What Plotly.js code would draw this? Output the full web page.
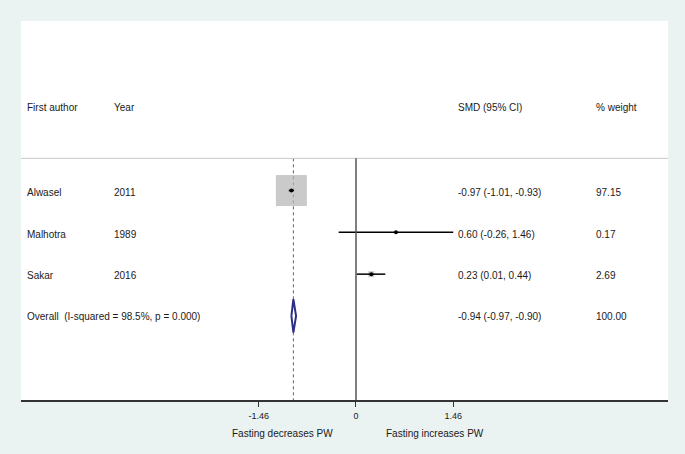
<!DOCTYPE html>
<html>
<head>
<meta charset="utf-8">
<script src="https://cdn.plot.ly/plotly-3.0.1.min.js"></script>
<style>
  html, body { margin: 0; padding: 0; background: #eaf2f2; }
  #plot { width: 685px; height: 454px; }
</style>
</head>
<body>
<div id="plot"></div>
<script>
// studies
var authors = ['Alwasel', 'Malhotra', 'Sakar'];
var years = ['2011', '1989', '2016'];
var smd = [-0.97, 0.60, 0.23];
var ciLow = [-1.01, -0.26, 0.01];
var ciHigh = [-0.93, 1.46, 0.44];
var weights = [97.15, 0.17, 2.69];

// pooled result
var overallLabel = 'Overall  (I-squared = 98.5%, p = 0.000)';
var overallSmd = -0.94;
var overallLow = -0.97;
var overallHigh = -0.90;
var overallWeight = 100.00;

var tickVals = [-1.46, 0, 1.46];
var tickText = ['-1.46', '0', '1.46'];

var fontFam = 'Liberation Sans, Arial, sans-serif';
var txtColor = '#1a1a1a';

var rows = authors.map(function (a, i) { return i; });
var overallRow = authors.length;
var maxW = Math.max.apply(null, weights);

function ciText(e, l, h) {
    return e.toFixed(2) + ' (' + l.toFixed(2) + ', ' + h.toFixed(2) + ')';
}

var boxes = {
    x: smd,
    y: rows,
    type: 'scatter',
    mode: 'markers',
    marker: {
        symbol: 'square',
        color: '#b4b4b4',
        size: weights.map(function (w) { return 30 * Math.sqrt(w / maxW) + 1; }),
        line: { width: 0 }
    },
    hoverinfo: 'skip'
};

var points = {
    x: smd,
    y: rows,
    type: 'scatter',
    mode: 'markers',
    marker: { symbol: 'circle', color: '#000', size: 4 },
    error_x: {
        type: 'data',
        symmetric: false,
        array: ciHigh.map(function (h, i) { return h - smd[i]; }),
        arrayminus: ciLow.map(function (l, i) { return smd[i] - l; }),
        width: 0,
        thickness: 1.5,
        color: '#000'
    },
    hoverinfo: 'skip'
};

var halfH = 0.4;
var diamond = {
    x: [overallLow, overallSmd, overallHigh, overallSmd, overallLow],
    y: [overallRow, overallRow - halfH, overallRow, overallRow + halfH, overallRow],
    type: 'scatter',
    mode: 'lines',
    fill: 'toself',
    fillcolor: '#ffffff',
    line: { color: '#2e2e86', width: 2 },
    hoverinfo: 'skip'
};

var sepRow = -0.77;
var headerRow = -1.98;

var annotations = [];
function addText(txt, x, y, xref, size) {
    annotations.push({
        text: txt, x: x, y: y, xref: xref || 'paper', yref: 'y',
        xanchor: 'left', yanchor: 'middle', showarrow: false, borderpad: 0,
        font: { family: fontFam, size: size || 10, color: txtColor }
    });
}

var colAuthor = 0.008, colYear = 0.1425, colSmd = 0.6745, colW = 0.8875;

addText('First author', colAuthor, headerRow);
addText('Year', colYear, headerRow);
addText('SMD (95% CI)', colSmd, headerRow);
addText('% weight', colW, headerRow);

rows.forEach(function (r, i) {
    addText(authors[i], colAuthor, r + 0.04);
    addText(years[i], colYear, r + 0.04);
    addText(ciText(smd[i], ciLow[i], ciHigh[i]), colSmd, r + 0.04);
    addText(weights[i].toFixed(2), colW, r + 0.04);
});
addText(overallLabel, colAuthor, overallRow + 0.02);
addText(ciText(overallSmd, overallLow, overallHigh), colSmd, overallRow + 0.02);
addText(overallWeight.toFixed(2), colW, overallRow + 0.02);

// axis side labels
annotations.push({
    text: 'Fasting decreases PW', x: -1.1, y: -0.0897, xref: 'x', yref: 'paper',
    xanchor: 'center', yanchor: 'middle', showarrow: false,
    font: { family: fontFam, size: 10, color: txtColor }
});
annotations.push({
    text: 'Fasting increases PW', x: 1.19, y: -0.0897, xref: 'x', yref: 'paper',
    xanchor: 'center', yanchor: 'middle', showarrow: false,
    font: { family: fontFam, size: 10, color: txtColor }
});

var bottomRow = 5.01;

var shapes = [
    { type: 'line', xref: 'paper', x0: 0, x1: 1, yref: 'y', y0: sepRow, y1: sepRow,
      line: { color: '#c8c8c8', width: 1 } },
    { type: 'line', xref: 'x', x0: 0, x1: 0, yref: 'y', y0: sepRow, y1: bottomRow,
      line: { color: '#555555', width: 1.5 } },
    { type: 'line', xref: 'x', x0: overallSmd, x1: overallSmd, yref: 'y', y0: sepRow, y1: bottomRow,
      line: { color: '#8a4b5e', width: 1, dash: '3px,3px' }, layer: 'below' }
];

var layout = {
    width: 685,
    height: 454,
    margin: { l: 21, r: 17, t: 21, b: 54 },
    paper_bgcolor: '#eaf2f2',
    plot_bgcolor: '#ffffff',
    showlegend: false,
    xaxis: {
        range: [-5.03, 4.685],
        showgrid: false,
        zeroline: false,
        showline: true,
        linecolor: '#333333',
        linewidth: 1.5,
        ticks: 'outside',
        ticklen: 5,
        tickwidth: 1,
        tickcolor: '#333333',
        tickvals: tickVals,
        ticktext: tickText,
        ticklabelstandoff: 2,
        tickfont: { family: fontFam, size: 9, color: txtColor },
        fixedrange: true
    },
    yaxis: {
        range: [bottomRow, -4.055],
        showgrid: false,
        zeroline: false,
        showline: false,
        showticklabels: false,
        ticks: '',
        fixedrange: true
    },
    shapes: shapes,
    annotations: annotations
};

Plotly.newPlot('plot', [boxes, diamond, points], layout, { staticPlot: true });
</script>
</body>
</html>
